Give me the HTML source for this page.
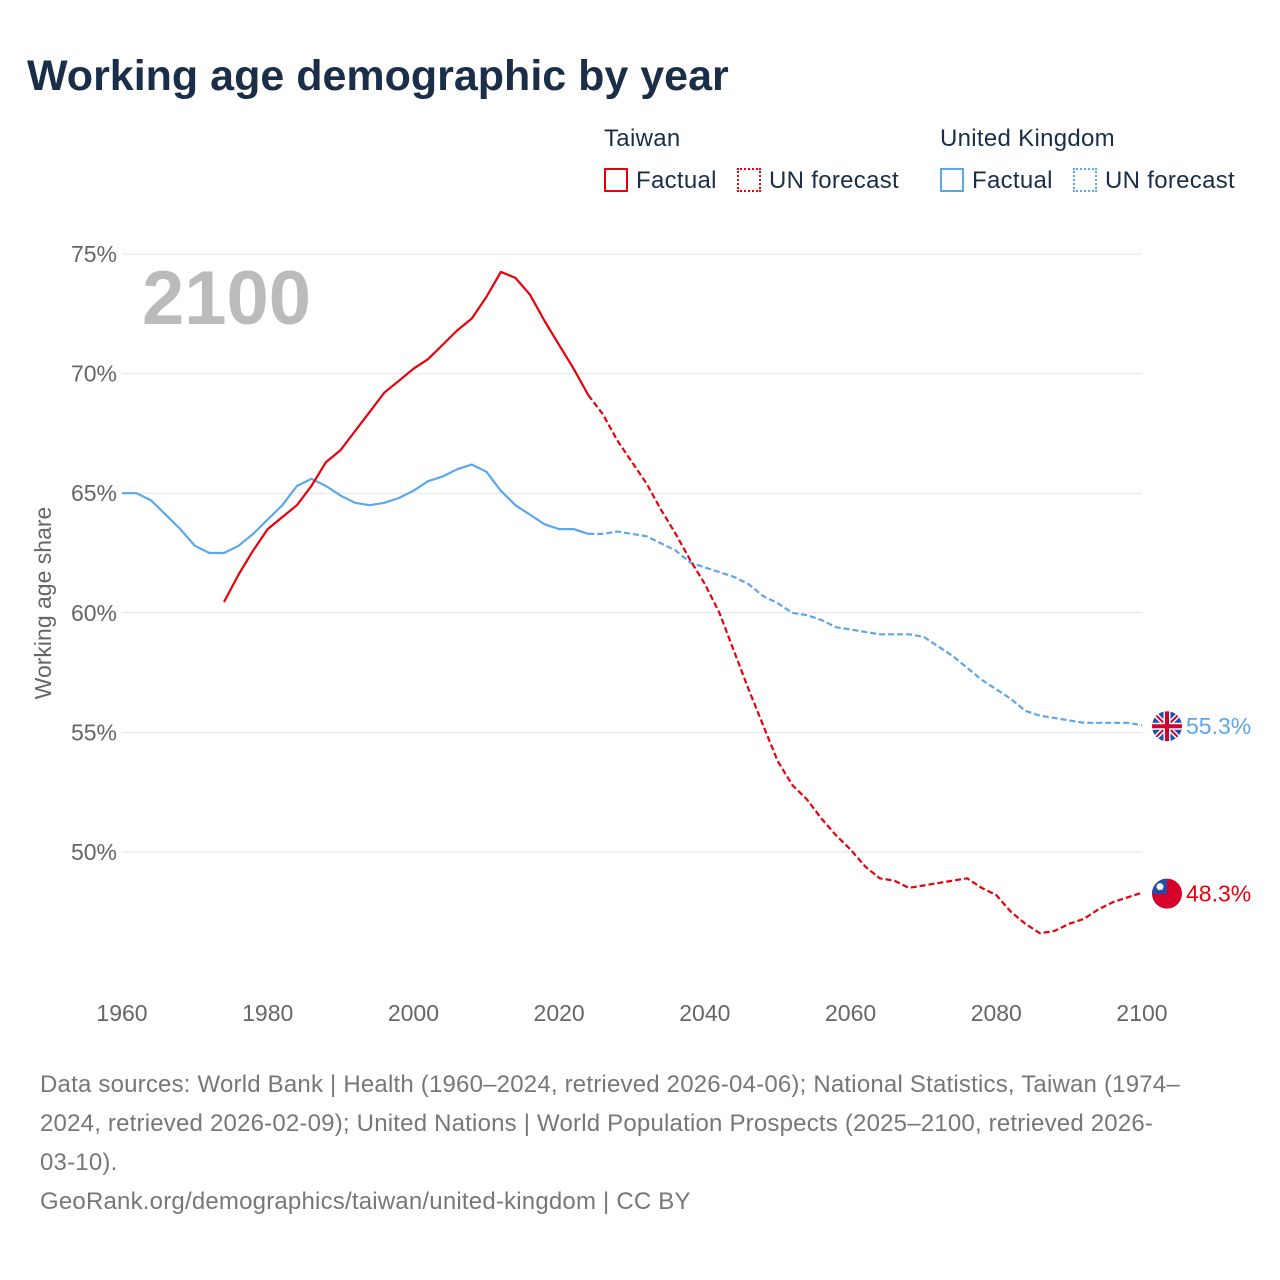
<!DOCTYPE html>
<html><head><meta charset="utf-8"><style>
body{margin:0;background:#fff;font-family:"Liberation Sans",sans-serif;}
#wrap{position:relative;width:1280px;height:1280px;overflow:hidden}
.t{position:absolute;white-space:nowrap}
</style></head><body>
<div id="wrap">
<div class="t" style="left:27px;top:52px;font-size:43px;font-weight:bold;color:#1a2e4a">Working age demographic by year</div>
<div class="t" style="left:604px;top:125px;font-size:24px;color:#1a2e4a;letter-spacing:0.3px">Taiwan</div>
<div class="t" style="left:940px;top:125px;font-size:24px;color:#1a2e4a;letter-spacing:0.3px">United Kingdom</div>
<div class="t" style="left:604px;top:167px;font-size:24px;color:#1a2e4a;letter-spacing:0.3px"><span style="display:inline-block;width:24px;height:24px;border:2px solid #e8000b;box-sizing:border-box;vertical-align:-4px;margin-right:8px"></span>Factual</div>
<div class="t" style="left:737px;top:167px;font-size:24px;color:#1a2e4a;letter-spacing:0.3px"><span style="display:inline-block;width:24px;height:24px;border:2px dotted #e8000b;box-sizing:border-box;vertical-align:-4px;margin-right:8px"></span>UN forecast</div>
<div class="t" style="left:940px;top:167px;font-size:24px;color:#1a2e4a;letter-spacing:0.3px"><span style="display:inline-block;width:24px;height:24px;border:2px solid #5ba7ea;box-sizing:border-box;vertical-align:-4px;margin-right:8px"></span>Factual</div>
<div class="t" style="left:1073px;top:167px;font-size:24px;color:#1a2e4a;letter-spacing:0.3px"><span style="display:inline-block;width:24px;height:24px;border:2px dotted #5ba7ea;box-sizing:border-box;vertical-align:-4px;margin-right:8px"></span>UN forecast</div>
<svg id="chart" width="1280" height="1060" style="position:absolute;left:0;top:0"></svg>
<div class="t" style="left:40px;top:1065px;font-size:24px;line-height:39px;color:#777;letter-spacing:0.2px">Data sources: World Bank | Health (1960–2024, retrieved 2026-04-06); National Statistics, Taiwan (1974–<br>2024, retrieved 2026-02-09); United Nations | World Population Prospects (2025–2100, retrieved 2026-<br>03-10).<br>GeoRank.org/demographics/taiwan/united-kingdom | CC BY</div>
</div>
<script>
const yTicks=[50,55,60,65,70,75];
const xTicks=[1960,1980,2000,2020,2040,2060,2080,2100];
const twYears=[1974,1976,1978,1980,1982,1984,1986,1988,1990,1992,1994,1996,1998,2000,2002,2004,2006,2008,2010,2012,2014,2016,2018,2020,2022,2024];
const twFact=[60.45,61.6,62.6,63.5,64.0,64.5,65.3,66.3,66.8,67.6,68.4,69.2,69.7,70.2,70.6,71.2,71.8,72.3,73.2,74.25,74.0,73.3,72.2,71.2,70.2,69.1];
const fcYears=[2024,2026,2028,2030,2032,2034,2036,2038,2040,2042,2044,2046,2048,2050,2052,2054,2056,2058,2060,2062,2064,2066,2068,2070,2072,2074,2076,2078,2080,2082,2084,2086,2088,2090,2092,2094,2096,2098,2100];
const twFc=[69.1,68.3,67.2,66.3,65.4,64.3,63.3,62.2,61.2,60.0,58.4,56.8,55.3,53.8,52.8,52.2,51.4,50.7,50.1,49.4,48.9,48.8,48.5,48.6,48.7,48.8,48.9,48.5,48.2,47.5,47.0,46.6,46.7,47.0,47.2,47.6,47.9,48.1,48.3];
const ukYears=[1960,1962,1964,1966,1968,1970,1972,1974,1976,1978,1980,1982,1984,1986,1988,1990,1992,1994,1996,1998,2000,2002,2004,2006,2008,2010,2012,2014,2016,2018,2020,2022,2024];
const ukFact=[65.0,65.0,64.7,64.1,63.5,62.8,62.5,62.5,62.8,63.3,63.9,64.5,65.3,65.6,65.3,64.9,64.6,64.5,64.6,64.8,65.1,65.5,65.7,66.0,66.2,65.9,65.1,64.5,64.1,63.7,63.5,63.5,63.3];
const ukFc=[63.3,63.3,63.4,63.3,63.2,62.9,62.6,62.1,61.9,61.7,61.5,61.2,60.7,60.4,60.0,59.9,59.7,59.4,59.3,59.2,59.1,59.1,59.1,59.0,58.6,58.2,57.7,57.2,56.8,56.4,55.9,55.7,55.6,55.5,55.4,55.4,55.4,55.4,55.3];
const ns="http://www.w3.org/2000/svg";
const svg=document.getElementById('chart');
const X=v=>122+(v-1960)*(1020/140);
const Y=v=>254+(75-v)*23.92;
function mk(tag,attrs){const e=document.createElementNS(ns,tag);for(const k in attrs)e.setAttribute(k,attrs[k]);svg.appendChild(e);return e;}
yTicks.forEach(t=>{
  const l=mk('line',{x1:122,x2:1142,y1:Y(t),y2:Y(t),stroke:'#e4e4e4','stroke-width':1});
  
  
  const tx=mk('text',{x:117,y:Y(t)+8,'text-anchor':'end','font-size':23,fill:'#666','font-family':'Liberation Sans'});
  tx.textContent=t+'%';
  
  
});
xTicks.forEach(t=>{
  const tx=mk('text',{x:X(t),y:1021,'text-anchor':'middle','font-size':23,fill:'#666','font-family':'Liberation Sans'});
  tx.textContent=t;
  
  
});
const yt=mk('text',{x:0,y:0,transform:'translate(51,603) rotate(-90)','text-anchor':'middle','font-size':23,fill:'#666','font-family':'Liberation Sans'});
yt.textContent='Working age share';


const yr=mk('text',{x:142,y:324,'font-size':76,'font-weight':'bold',fill:'#bbb','font-family':'Liberation Sans'});
yr.textContent='2100';


function line(xs,vs,color,dash,name){
  const d=xs.map((x,i)=>(i?'L':'M')+X(x).toFixed(1)+','+Y(vs[i]).toFixed(1)).join('');
  const p=mk('path',{d:d,fill:'none',stroke:color,'stroke-width':2.2,'stroke-linejoin':'round'});
  if(dash)p.setAttribute('stroke-dasharray','6,3');
  
  
}
line(ukYears,ukFact,'#5ba7ea',false,'uk-factual-line');
line(fcYears,ukFc,'#5ba7ea',true,'uk-forecast-line');
line(twYears,twFact,'#e8000b',false,'taiwan-factual-line');
line(fcYears,twFc,'#e8000b',true,'taiwan-forecast-line');
const ukEnd=ukFc[ukFc.length-1], twEnd=twFc[twFc.length-1];
const ex=1167;
let g=mk('g',{});


const uy=Y(ukEnd)+1;
g.innerHTML=`<clipPath id="uc"><circle cx="${ex}" cy="${uy}" r="15"/></clipPath><g clip-path="url(#uc)"><rect x="${ex-15}" y="${uy-15}" width="30" height="30" fill="#1f4fa8"/><path d="M${ex-15},${uy-15}L${ex+15},${uy+15}M${ex+15},${uy-15}L${ex-15},${uy+15}" stroke="#fff" stroke-width="5"/><path d="M${ex-15},${uy-15}L${ex+15},${uy+15}M${ex+15},${uy-15}L${ex-15},${uy+15}" stroke="#d4002a" stroke-width="2"/><path d="M${ex},${uy-15}V${uy+15}M${ex-15},${uy}H${ex+15}" stroke="#fff" stroke-width="7"/><path d="M${ex},${uy-15}V${uy+15}M${ex-15},${uy}H${ex+15}" stroke="#d4002a" stroke-width="4"/></g>`;
const ty=Y(twEnd)+1;
g=mk('g',{});


g.innerHTML=`<clipPath id="tc"><circle cx="${ex}" cy="${ty}" r="15"/></clipPath><g clip-path="url(#tc)"><rect x="${ex-15}" y="${ty-15}" width="30" height="30" fill="#d7002a"/><rect x="${ex-15}" y="${ty-15}" width="15" height="15" fill="#1f4fa8"/><circle cx="${ex-7}" cy="${ty-7}" r="3.5" fill="#fff"/></g>`;
const ul=mk('text',{x:1186,y:Y(ukEnd)+9,'font-size':23,fill:'#5ba7ea','font-family':'Liberation Sans'});
ul.textContent=ukEnd.toFixed(1)+'%';


const tl=mk('text',{x:1186,y:Y(twEnd)+9,'font-size':23,fill:'#e8000b','font-family':'Liberation Sans'});
tl.textContent=twEnd.toFixed(1)+'%';


</script>
</body></html>
